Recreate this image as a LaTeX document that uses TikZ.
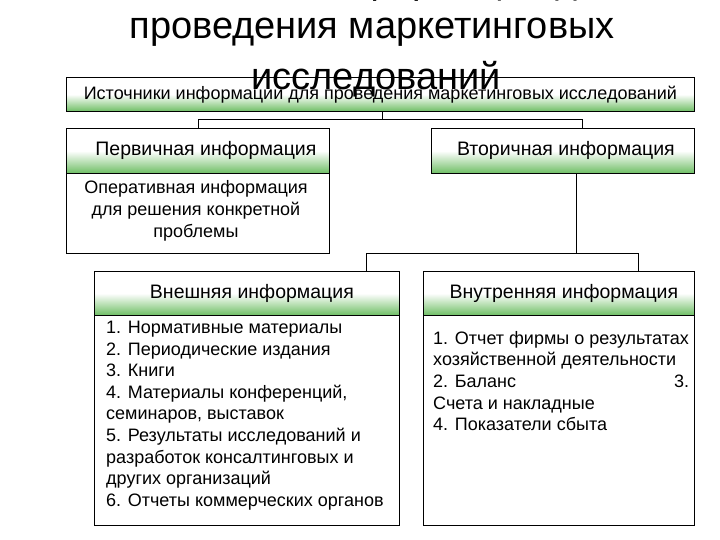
\documentclass[tikz,border=0pt]{standalone}
\usepackage{fontspec}
\setmainfont{Liberation Sans}
\begin{document}
\begin{tikzpicture}[x=1pt,y=-1pt,
  hdr/.style={draw=black,line width=0.8pt,anchor=north west,inner sep=0pt,
    top color=white,bottom color={rgb,255:red,110;green,190;blue,100},middle color=white},
  bodybox/.style={draw=black,line width=0.8pt,anchor=north west,inner sep=0pt,fill=white},
  htxt/.style={font=\fontsize{19.5}{23}\selectfont},
  ln/.style={draw=black,line width=0.8pt}]
\useasboundingbox (0,0) rectangle (720,540);
\begin{scope}
\clip (0,0) rectangle (720,540);
\node[font=\fontsize{38}{44}\selectfont] (t0) at (372,-16) {Источники информации для};
\end{scope}
\node[font=\fontsize{38}{44}\selectfont] (t1) at (372,32) {проведения маркетинговых};
% top box
\node[hdr,minimum width=628,minimum height=34] (top) at (66,77) {};
\node[font=\fontsize{18}{21}\selectfont] at (top.center) {Источники информации для проведения маркетинговых исследований};
\node[font=\fontsize{38}{44}\selectfont] (t2) at (376,79) {исследований};
% primary
\node[bodybox,minimum width=263,minimum height=125] (pb) at (66,128) {};
\node[hdr,minimum width=263,minimum height=45] (ph) at (66,128) {};
\node[htxt] at ([xshift=8]ph.center) {Первичная информация};
\node[align=center,font=\fontsize{18}{22}\selectfont] (pt) at (196,211) {Оперативная информация\\для решения конкретной\\проблемы};
% secondary
\node[hdr,minimum width=263,minimum height=45] (sh) at (431,128) {};
\node[htxt] at ([xshift=3]sh.center) {Вторичная информация};
% external
\node[bodybox,minimum width=305,minimum height=254] (eb) at (94,271) {};
\node[hdr,minimum width=305,minimum height=44] (eh) at (94,271) {};
\node[htxt] at ([xshift=5]eh.center) {Внешняя информация};
\node[anchor=north west,align=left,font=\fontsize{18}{21.6}\selectfont,inner sep=0pt] (et) at (106,321)
{1. Нормативные материалы\\2. Периодические издания\\3. Книги\\4. Материалы конференций,\\семинаров, выставок\\5. Результаты исследований и\\разработок консалтинговых и\\других организаций\\6. Отчеты коммерческих органов};
% internal
\node[bodybox,minimum width=271,minimum height=254] (ib) at (423,271) {};
\node[hdr,minimum width=271,minimum height=44] (ih) at (423,271) {};
\node[htxt] at ([xshift=5]ih.center) {Внутренняя информация};
\node[anchor=north west,font=\fontsize{18}{21.6}\selectfont,inner sep=0pt] (it) at (433,331)
{\parbox[t]{256pt}{1. Отчет фирмы о результатах\\хозяйственной деятельности\\2. Баланс\hfill 3.\\Счета и накладные\\4. Показатели сбыта}};
% connectors
\coordinate (j1) at (382,119);
\draw[ln] (top.south -| j1) -- (j1);
\draw[ln] (j1) -- (198,119) -- (198,128);
\draw[ln] (j1) -- (582,119) -- (582,128);
\coordinate (j2) at (576,253);
\draw[ln] (sh.south -| j2) -- (j2);
\draw[ln] (j2) -- (366,253) -- (366,271);
\draw[ln] (j2) -- (638,253) -- (638,271);
\end{tikzpicture}
\end{document}
